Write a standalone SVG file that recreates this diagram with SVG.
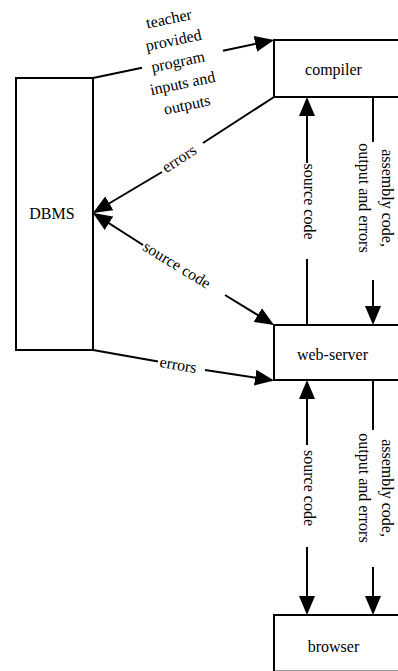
<svg xmlns="http://www.w3.org/2000/svg" width="398" height="671" viewBox="0 0 398 671">
<style>
.box{fill:#fff;stroke:#000;stroke-width:2}
.t{font-family:'Liberation Serif', 'Times New Roman', Times, serif;font-size:16px;fill:#000;text-anchor:middle}
.c line{stroke:#000;stroke-width:2;fill:none}
</style>
<defs>
<marker id="ah" markerUnits="userSpaceOnUse" markerWidth="19" markerHeight="16" refX="17" refY="8" orient="auto" viewBox="0 0 19 16">
<path d="M0,0 L19,8 L0,16 z" fill="#000"/>
</marker>
</defs>
<rect width="398" height="671" fill="#fff"/>
<g id="dbms"><rect class="box" x="16" y="78" width="77" height="272"/><text class="t" x="52" y="219">DBMS</text></g>
<g id="compiler"><rect class="box" x="274" y="40" width="150" height="57"/><text class="t" x="333.5" y="75">compiler</text></g>
<g id="webserver"><rect class="box" x="274" y="325" width="150" height="55"/><text class="t" x="332.5" y="360">web-server</text></g>
<g id="browser"><rect class="box" x="274" y="615" width="150" height="56.6"/><text class="t" x="333.5" y="652">browser</text></g>
<g id="connectors" class="c">
<line x1="93" y1="78" x2="142" y2="67.7"/>
<line x1="223" y1="50.7" x2="272" y2="40.4" marker-end="url(#ah)"/>
<line x1="274" y1="97" x2="203" y2="143"/>
<line x1="162" y1="172" x2="94.7" y2="212" marker-end="url(#ah)"/>
<line x1="143" y1="245" x2="94.7" y2="214.1" marker-end="url(#ah)"/>
<line x1="225" y1="295" x2="272.3" y2="324" marker-end="url(#ah)"/>
<line x1="93" y1="350" x2="158" y2="361.5"/>
<line x1="205" y1="370" x2="272" y2="380.2" marker-end="url(#ah)"/>
<line x1="307" y1="325" x2="307" y2="259"/>
<line x1="307" y1="163" x2="307" y2="99" marker-end="url(#ah)"/>
<line x1="373" y1="97" x2="373" y2="142"/>
<line x1="373" y1="280" x2="373" y2="323" marker-end="url(#ah)"/>
<line x1="307" y1="445" x2="307" y2="382" marker-end="url(#ah)"/>
<line x1="307" y1="547" x2="307" y2="613" marker-end="url(#ah)"/>
<line x1="373" y1="380" x2="373" y2="430"/>
<line x1="373" y1="567" x2="373" y2="613" marker-end="url(#ah)"/>
</g>
<g id="labels">
<g transform="translate(178,62) rotate(-11.9)">
<text class="t" x="0" y="-39">teacher</text>
<text class="t" x="0" y="-17">provided</text>
<text class="t" x="0" y="5">program</text>
<text class="t" x="0" y="27">inputs and</text>
<text class="t" x="0" y="49">outputs</text>
</g>
<text class="t" transform="translate(180,160) rotate(-33)" y="3.7">errors</text>
<text class="t" transform="translate(176.5,265.5) rotate(31.3)" y="4.5">source code</text>
<text class="t" transform="translate(178,366) rotate(9.7)" y="4">errors</text>
<text class="t" transform="translate(307,201.5) rotate(90)" y="3">source code</text>
<g transform="translate(373,198) rotate(90)">
<text class="t" y="-8.5">assembly code,</text>
<text class="t" y="14.5">output and errors</text>
</g>
<text class="t" transform="translate(307,488) rotate(90)" y="3">source code</text>
<g transform="translate(373,488) rotate(90)">
<text class="t" y="-8.5">assembly code,</text>
<text class="t" y="14.5">output and errors</text>
</g>
</g>
</svg>
